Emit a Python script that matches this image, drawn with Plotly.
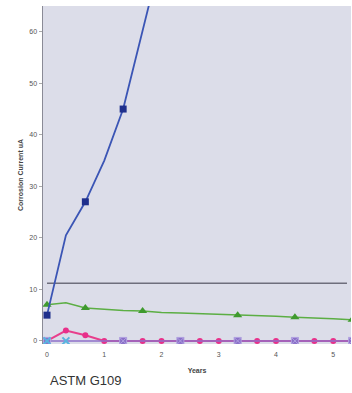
import plotly.graph_objects as go

# Time points (years)
years = [0, 0.33, 0.67, 1.0, 1.33, 1.67, 2.0]
blue_vals = [5, 20.5, 27, 35, 45, 60, 75]
blue_mark_x = [0, 0.67, 1.33]
blue_mark_y = [5, 27, 45]

green_x = [0, 0.33, 0.67, 1.0, 1.33, 1.67, 2.0, 2.33, 2.67, 3.0, 3.33, 3.67, 4.0, 4.33, 4.67, 5.0, 5.33]
green_y = [7.0, 7.4, 6.4, 6.1, 5.9, 5.8, 5.5, 5.4, 5.3, 5.2, 5.0, 4.9, 4.8, 4.6, 4.5, 4.3, 4.1]
green_mark_x = [0, 0.67, 1.67, 3.33, 4.33, 5.33]
green_mark_y = [7.0, 6.4, 5.8, 5.0, 4.6, 4.1]

pink_x = [0, 0.33, 0.67, 1.0, 1.33, 1.67, 2.0, 2.33, 2.67, 3.0, 3.33, 3.67, 4.0, 4.33, 4.67, 5.0, 5.33]
pink_y = [0, 2.0, 1.1, 0, 0, 0, 0, 0, 0, 0, 0, 0, 0, 0, 0, 0, 0]

purple_x = [0, 1.33, 2.33, 3.33, 4.33, 5.33]
purple_y = [0, 0, 0, 0, 0, 0]

cyan_x = [0, 0.33]
cyan_y = [0, 0]

gray_x = [0, 5.24]
gray_y = [11.2, 11.2]

fig = go.Figure()
fig.add_trace(go.Scatter(x=gray_x, y=gray_y, mode="lines",
                         line=dict(color="#6e6e7c", width=1.5), hoverinfo="skip"))
fig.add_trace(go.Scatter(x=green_x, y=green_y, mode="lines",
                         line=dict(color="#5cae44", width=1.5)))
fig.add_trace(go.Scatter(x=green_mark_x, y=green_mark_y, mode="markers",
                         marker=dict(symbol="triangle-up", size=8, color="#3f9a2e")))
fig.add_trace(go.Scatter(x=pink_x, y=pink_y, mode="lines+markers",
                         line=dict(color="#e83e8c", width=2),
                         marker=dict(symbol="circle", size=6, color="#e8308a")))
fig.add_trace(go.Scatter(x=purple_x, y=purple_y, mode="lines+markers",
                         line=dict(color="#8f6fc8", width=1.5),
                         marker=dict(symbol="square-x", size=7, color="#8a70c8",
                                     line=dict(color="#b0a0e0", width=1))))
fig.add_trace(go.Scatter(x=cyan_x, y=cyan_y, mode="markers",
                         marker=dict(symbol="x-thin", size=7, color="#58b4e0",
                                     line=dict(color="#58b4e0", width=2))))
fig.add_trace(go.Scatter(x=years, y=blue_vals, mode="lines",
                         line=dict(color="#3b55b5", width=1.8)))
fig.add_trace(go.Scatter(x=blue_mark_x, y=blue_mark_y, mode="markers",
                         marker=dict(symbol="square", size=7, color="#1f2f8c")))

fig.update_layout(
    width=352, height=393,
    margin=dict(l=43, r=1, t=6, b=49),
    paper_bgcolor="white",
    plot_bgcolor="#dcdde9",
    showlegend=False,
    hovermode=False,
    font=dict(family="Liberation Sans, Arial, sans-serif", color="#444"),
    xaxis=dict(range=[-0.07, 5.31], tickvals=[0, 1, 2, 3, 4, 5],
               showgrid=False, zeroline=False, showline=False,
               ticks="outside", ticklen=4, tickcolor="rgba(0,0,0,0)",
               tickfont=dict(size=7, color="#555"),
               title=dict(text="<b>Years</b>", font=dict(size=7, color="#444"), standoff=10)),
    yaxis=dict(range=[-0.6, 65], tickvals=[0, 10, 20, 30, 40, 50, 60],
               showgrid=False, zeroline=False, showline=True,
               linecolor="#8a8a96", linewidth=1.5,
               ticks="outside", ticklen=3, tickcolor="#aaa",
               tickfont=dict(size=7, color="#555"),
               title=dict(text="<b>Corrosion Current uA</b>", font=dict(size=7, color="#444"), standoff=5)),
    annotations=[dict(text="ASTM G109", xref="paper", yref="paper",
                      x=(86 - 43) / 308, y=(344 - 380) / 338,
                      xanchor="center", yanchor="middle",
                      showarrow=False, font=dict(size=13, color="#333"))],
)

fig.write_html("out.html", config={"displayModeBar": False, "staticPlot": True},
               post_script="document.body.style.margin='0';document.body.style.overflow='hidden';")
